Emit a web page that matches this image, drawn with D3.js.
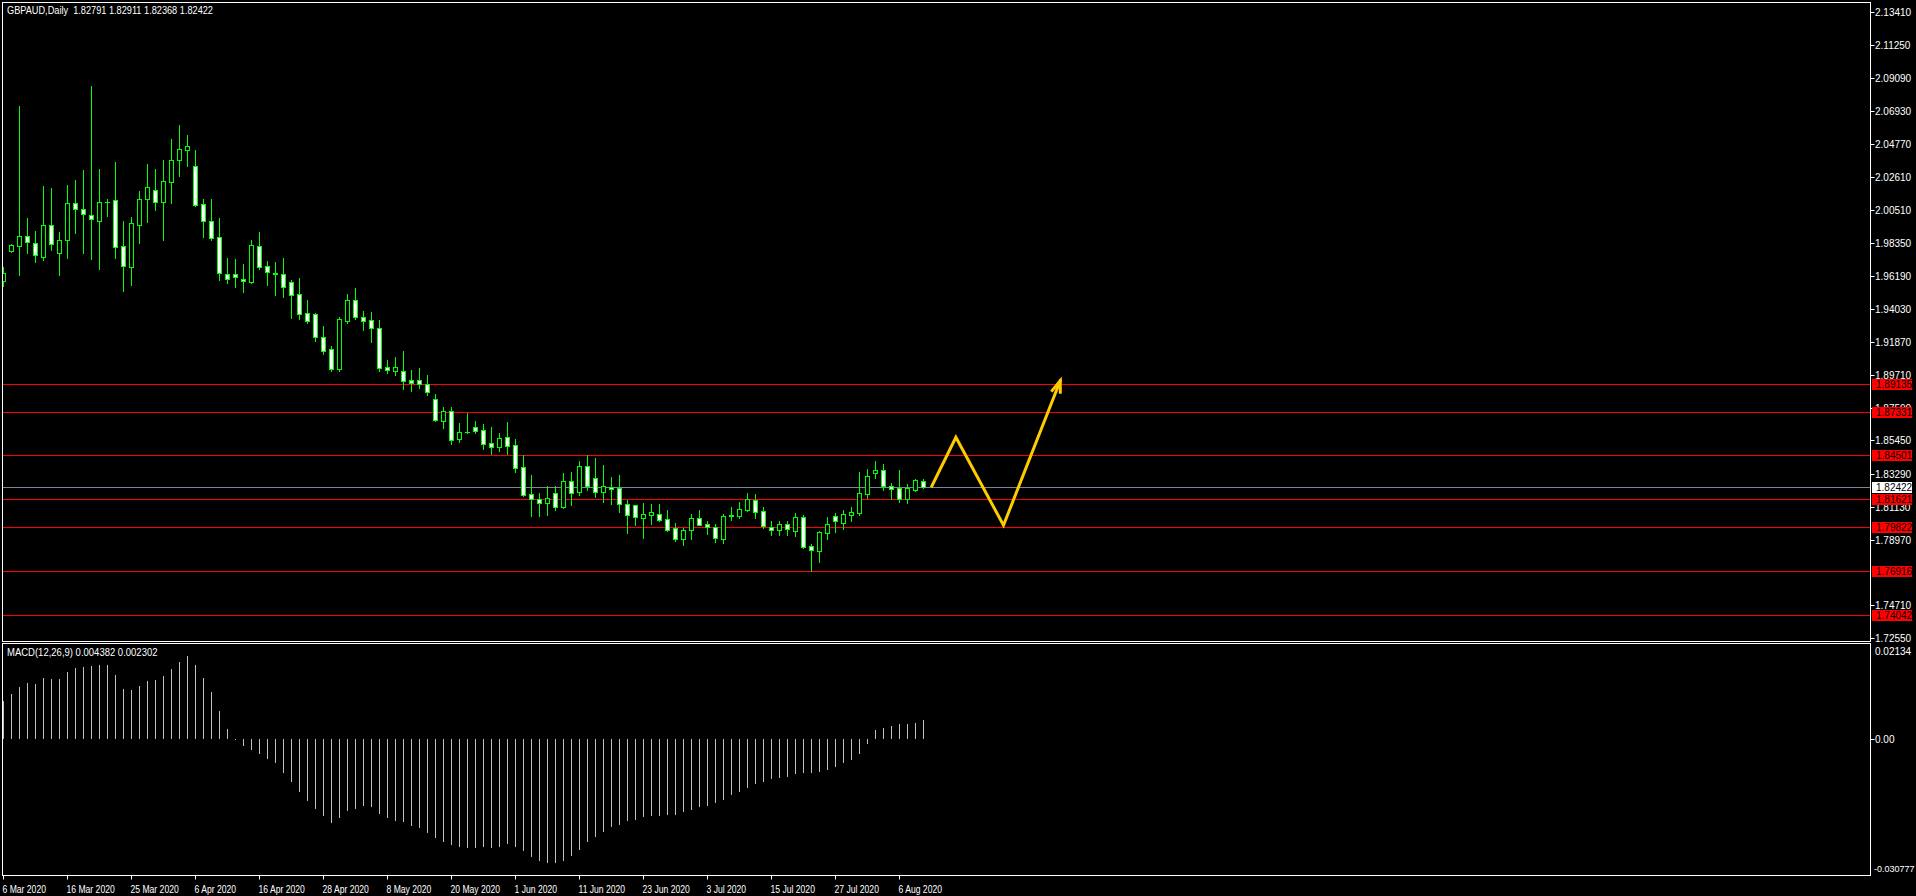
<!DOCTYPE html>
<html><head><meta charset="utf-8">
<script src="https://cdn.jsdelivr.net/npm/d3@7"></script>
<style>
html,body{margin:0;padding:0;background:#000;overflow:hidden}
svg{display:block}
text{font-family:"Liberation Sans",Arial,sans-serif;}
</style></head><body><svg id="c" width="1916" height="896"></svg>
<script>
// ---- data ----
const opens=[1.9585,1.9782,1.9815,1.9876,1.9831,1.9743,1.9948,1.9769,1.9850,2.0092,
2.0053,2.0015,1.9978,2.0100,2.0111,1.9811,1.9678,1.9952,2.0118,2.0176,
2.0102,2.0232,2.0376,2.0441,2.0333,2.0085,1.9974,1.9870,1.9629,1.9629,
1.9596,1.9580,1.9811,1.9681,1.9634,1.9629,1.9576,1.9500,1.9376,1.9368,
1.9218,1.9141,1.9011,1.9326,1.9459,1.9348,1.9331,1.9276,1.9022,1.8995,
1.9000,1.8939,1.8939,1.8913,1.8815,1.8674,1.8735,1.8553,1.8600,1.8631,
1.8611,1.8527,1.8504,1.8566,1.8514,1.8370,1.8194,1.8165,1.8139,1.8201,
1.8113,1.8279,1.8207,1.8377,1.8298,1.8211,1.8243,1.8235,1.8131,1.8122,
1.8041,1.8061,1.8063,1.8031,1.7975,1.7901,1.7959,1.8037,1.7998,1.7983,
1.7905,1.8054,1.8054,1.8094,1.8159,1.8083,1.7983,1.7959,1.7998,1.7957,
1.8044,1.7855,1.7826,1.7944,1.8050,1.8009,1.8057,1.8074,1.8198,1.8335,
1.8350,1.8246,1.8235,1.8161,1.8222,1.82791];
const highs=[1.9678,1.9826,2.0726,1.9996,1.9909,2.0204,2.0191,1.9904,2.0211,2.0244,
2.0309,2.0856,2.0315,2.0118,2.0361,1.9974,2.0000,2.0172,2.0348,2.0315,
2.0374,2.0511,2.0602,2.0537,2.0439,2.0118,2.0118,1.9996,1.9735,1.9728,
1.9696,1.9852,1.9904,1.9715,1.9709,1.9735,1.9591,1.9604,1.9461,1.9378,
1.9291,1.9161,1.9350,1.9500,1.9539,1.9389,1.9383,1.9331,1.9070,1.9090,
1.9129,1.9005,1.9018,1.8972,1.8848,1.8765,1.8765,1.8659,1.8721,1.8672,
1.8652,1.8633,1.8594,1.8665,1.8553,1.8450,1.8320,1.8202,1.8246,1.8248,
1.8332,1.8337,1.8411,1.8450,1.8430,1.8385,1.8306,1.8320,1.8157,1.8124,
1.8135,1.8131,1.8131,1.8092,1.8005,1.7972,1.8066,1.8092,1.8018,1.8002,
1.8068,1.8109,1.8144,1.8200,1.8196,1.8109,1.8020,1.8018,1.8018,1.8070,
1.8059,1.7870,1.7955,1.8046,1.8072,1.8092,1.8109,1.8339,1.8359,1.8411,
1.8392,1.8268,1.8352,1.8259,1.8292,1.82911];
const lows=[1.9550,1.9775,1.9624,1.9769,1.9711,1.9722,1.9787,1.9624,1.9735,1.9900,
1.9769,1.9728,1.9663,2.0009,1.9737,1.9520,1.9559,1.9835,1.9970,2.0048,
1.9852,2.0094,2.0272,2.0337,2.0074,1.9874,1.9852,1.9593,1.9574,1.9546,
1.9513,1.9575,1.9665,1.9559,1.9494,1.9482,1.9344,1.9337,1.9309,1.9196,
1.9111,1.9000,1.9000,1.9310,1.9339,1.9265,1.9187,1.9000,1.8985,1.8970,
1.8881,1.8868,1.8890,1.8843,1.8670,1.8628,1.8524,1.8535,1.8596,1.8594,
1.8489,1.8457,1.8476,1.8457,1.8341,1.8180,1.8054,1.8054,1.8059,1.8092,
1.8105,1.8124,1.8189,1.8222,1.8178,1.8146,1.8131,1.8079,1.7941,1.7992,
1.7907,1.8000,1.8022,1.7955,1.7890,1.7865,1.7905,1.7992,1.7937,1.7883,
1.7876,1.8026,1.8039,1.8087,1.8041,1.7972,1.7931,1.7931,1.7931,1.7924,
1.7844,1.7694,1.7754,1.7902,1.7948,1.7968,1.8020,1.8059,1.8170,1.8300,
1.8222,1.8161,1.8144,1.8137,1.8215,1.82368];
const closes=[1.9637,1.9818,1.9878,1.9837,1.9752,1.9948,1.9828,1.9850,2.0092,2.0053,
2.0020,1.9987,2.0098,2.0103,1.9809,1.9685,1.9961,2.0118,2.0196,2.0102,
2.0235,2.0372,2.0444,2.0463,2.0082,1.9978,1.9867,1.9635,1.9596,1.9609,
1.9583,1.9818,1.9678,1.9646,1.9630,1.9548,1.9496,1.9372,1.9326,1.9222,
1.9130,1.9011,1.9335,1.9461,1.9352,1.9326,1.9280,1.9020,1.9005,1.9025,
1.8935,1.8922,1.8911,1.8863,1.8680,1.8735,1.8550,1.8598,1.8601,1.8609,
1.8524,1.8504,1.8559,1.8511,1.8368,1.8191,1.8163,1.8139,1.8168,1.8113,
1.8279,1.8205,1.8377,1.8250,1.8211,1.8246,1.8230,1.8129,1.8061,1.8044,
1.8063,1.8076,1.8028,1.7963,1.7905,1.7961,1.8037,1.7996,1.7979,1.7907,
1.8050,1.8058,1.8096,1.8161,1.8081,1.7989,1.7959,1.7998,1.7968,1.8044,
1.7852,1.7829,1.7946,1.8002,1.8018,1.8063,1.8076,1.8200,1.8311,1.8350,
1.8248,1.8230,1.8161,1.8235,1.8285,1.82422];
const macdHist=[0.00872,0.01031,0.01190,0.01280,0.01258,0.01394,0.01371,0.01371,0.01530,0.01620,
0.01643,0.01665,0.01681,0.01688,0.01462,0.01144,0.01122,0.01212,0.01326,0.01348,
0.01439,0.01598,0.01756,0.01892,0.01672,0.01394,0.01076,0.00630,0.00238,-0.00020,
-0.00161,-0.00245,-0.00329,-0.00440,-0.00550,-0.00771,-0.00965,-0.01187,-0.01408,-0.01575,
-0.01740,-0.01906,-0.01795,-0.01629,-0.01575,-0.01518,-0.01546,-0.01686,-0.01795,-0.01851,
-0.01879,-0.01962,-0.02017,-0.02128,-0.02239,-0.02322,-0.02404,-0.02432,-0.02460,-0.02460,
-0.02432,-0.02460,-0.02432,-0.02377,-0.02432,-0.02543,-0.02680,-0.02770,-0.02800,-0.02810,
-0.02760,-0.02650,-0.02500,-0.02340,-0.02211,-0.02100,-0.01990,-0.01935,-0.01851,-0.01824,
-0.01768,-0.01740,-0.01740,-0.01713,-0.01713,-0.01657,-0.01602,-0.01546,-0.01518,-0.01437,
-0.01380,-0.01269,-0.01187,-0.01104,-0.01020,-0.00965,-0.00909,-0.00881,-0.00854,-0.00798,
-0.00771,-0.00771,-0.00743,-0.00689,-0.00632,-0.00550,-0.00467,-0.00329,-0.00120,0.00197,
0.00254,0.00308,0.00338,0.00338,0.00365,0.004382];
const priceTicks=[2.13410,2.11250,2.09090,2.06930,2.04770,2.02610,2.00510,1.98350,1.96190,1.94030,
1.91870,1.89710,1.87590,1.85450,1.83290,1.81130,1.78970,1.74710,1.72550];
const levels=[1.89135,1.87331,1.84501,1.81621,1.79822,1.76916,1.74042];
const bidPrice=1.82422;
const macdTicks=[0.02134,0.00,-0.030777];
const macdTickLabels=["0.02134","0.00","-0.030777"];
const dateLabels=["6 Mar 2020","16 Mar 2020","25 Mar 2020","6 Apr 2020","16 Apr 2020","28 Apr 2020",
"8 May 2020","20 May 2020","1 Jun 2020","11 Jun 2020","23 Jun 2020","3 Jul 2020","15 Jul 2020","27 Jul 2020","6 Aug 2020"];
const labelEvery=8;
const arrowBars=[116.05,119.05,125.0,132.1];
const arrowPrices=[1.8248,1.8566,1.7992,1.8935];
const titleText="GBPAUD,Daily  1.82791 1.82911 1.82368 1.82422";
const macdTitle="MACD(12,26,9) 0.004382 0.002302";

// ---- layout ----
const L=2.5,R=1870.5,mainT=2.5,mainB=641.5,macdT=643.5,macdB=875.5;
const svg=d3.select("#c");
svg.append("rect").attr("width",1916).attr("height",896).attr("fill","#000");
const x=d3.scaleLinear().domain([0,1]).range([3.5,11.5]);
const y=d3.scaleLinear().domain([1.72550,2.13410]).range([638.3,11.7]);
const yM=d3.scaleLinear().domain([-0.030777,0.02134]).range([875,645]);
const px=v=>Math.round(v)+0.5;

const defs=svg.append("defs");
defs.append("clipPath").attr("id","cm").append("rect").attr("x",3).attr("y",3).attr("width",R-3.5).attr("height",mainB-3.5);
defs.append("clipPath").attr("id","cmacd").append("rect").attr("x",3).attr("y",macdT+0.5).attr("width",R-3.5).attr("height",macdB-macdT-1);

const gMain=svg.append("g").attr("clip-path","url(#cm)");
gMain.selectAll("line.lv").data(levels).join("line").attr("class","lv")
 .attr("x1",3).attr("x2",R).attr("y1",d=>px(y(d))).attr("y2",d=>px(y(d)))
 .attr("stroke","#ff0000").attr("stroke-width",1);
gMain.append("line").attr("x1",3).attr("x2",R).attr("y1",px(y(bidPrice))).attr("y2",px(y(bidPrice)))
 .attr("stroke","#778899").attr("stroke-width",1);

// candles
const bars=d3.range(opens.length).map(i=>({i,o:opens[i],h:highs[i],l:lows[i],c:closes[i]}));
const gc=gMain.append("g");
gc.selectAll("line.wk").data(bars).join("line").attr("class","wk")
 .attr("x1",d=>x(d.i)).attr("x2",d=>x(d.i))
 .attr("y1",d=>Math.round(y(d.h))).attr("y2",d=>Math.round(y(d.l))+1)
 .attr("stroke","#00ff00").attr("stroke-width",1);
bars.forEach(d=>{
  const t=Math.round(y(Math.max(d.o,d.c))), b=Math.round(y(Math.min(d.o,d.c)));
  const cx=x(d.i);
  if(b-t<1){
    gc.append("line").attr("x1",cx-2.5).attr("x2",cx+2.5).attr("y1",t+0.5).attr("y2",t+0.5)
      .attr("stroke","#00ff00").attr("stroke-width",1);
  } else {
    gc.append("rect").attr("x",cx-2).attr("y",t+0.5).attr("width",4).attr("height",b-t)
      .attr("fill",d.c>=d.o?"#000":"#ffffff").attr("stroke","#00ff00").attr("stroke-width",1);
  }
});

// yellow zigzag arrow
const pts=arrowBars.map((b,i)=>[x(b),y(arrowPrices[i])]);
gMain.append("path").attr("d",d3.line()(pts)).attr("fill","none")
 .attr("stroke","#ffcc00").attr("stroke-width",3).attr("stroke-linejoin","miter").attr("stroke-linecap","square");
const tip=pts[pts.length-1];
gMain.append("path").attr("d",`M${tip[0]-9},${tip[1]+11}L${tip[0]},${tip[1]}L${tip[0]},${tip[1]+13}`)
 .attr("fill","none").attr("stroke","#ffcc00").attr("stroke-width",3);

// MACD
const gM=svg.append("g").attr("clip-path","url(#cmacd)");
gM.selectAll("line.h").data(macdHist).join("line").attr("class","h")
 .attr("x1",(d,i)=>x(i)).attr("x2",(d,i)=>x(i))
 .attr("y1",Math.round(yM(0))).attr("y2",d=>Math.round(yM(d)))
 .attr("stroke","#c0c0c0").attr("stroke-width",1);

// frames
const fr=svg.append("g").attr("fill","none").attr("stroke","#fff").attr("stroke-width",1);
fr.append("rect").attr("x",L).attr("y",mainT).attr("width",R-L).attr("height",mainB-mainT);
fr.append("rect").attr("x",L).attr("y",macdT).attr("width",R-L).attr("height",macdB-macdT);

// price axis
const ax=svg.append("g").attr("font-size","10px");
priceTicks.forEach(p=>{
  const yy=px(y(p));
  ax.append("line").attr("x1",R).attr("x2",R+4).attr("y1",yy).attr("y2",yy).attr("stroke","#fff");
  ax.append("text").attr("x",1875).attr("y",yy).attr("dy","0.35em").attr("fill","#fff").text(p.toFixed(5));
});
levels.forEach(p=>{
  const yy=Math.round(y(p));
  ax.append("rect").attr("x",1872).attr("y",yy-5).attr("width",40).attr("height",11).attr("fill","#ff0000");
  ax.append("text").attr("x",1876).attr("y",yy+0.5).attr("dy","0.36em").attr("fill","#000").text(p.toFixed(5));
});
{
  const yy=Math.round(y(bidPrice));
  ax.append("rect").attr("x",1872).attr("y",yy-5).attr("width",40).attr("height",11).attr("fill","#ffffff");
  ax.append("text").attr("x",1876).attr("y",yy+0.5).attr("dy","0.36em").attr("fill","#000").text(bidPrice.toFixed(5));
}
// macd axis
macdTicks.forEach((v,i)=>{
  let yy=yM(v);
  const last=i===macdTicks.length-1;
  if(i===0) yy+=6; else if(last) yy-=6;
  else ax.append("line").attr("x1",R).attr("x2",R+4).attr("y1",px(yy)).attr("y2",px(yy)).attr("stroke","#fff");
  ax.append("text").attr("x",last?1874:1875).attr("y",yy).attr("dy","0.35em").attr("fill","#fff")
   .attr("font-size",last?"9px":"10px").text(macdTickLabels[i]);
});
// date axis
dateLabels.forEach((t,k)=>{
  const xx=x(k*labelEvery);
  ax.append("line").attr("x1",xx).attr("x2",xx).attr("y1",macdB).attr("y2",macdB+4).attr("stroke","#fff");
  ax.append("text").attr("transform",`translate(${xx-1},889) scale(0.86,1)`).attr("dy","0.35em").attr("fill","#fff").text(t);
});
// titles
svg.append("text").attr("transform","translate(7,14) scale(0.92,1)").attr("font-size","10px").attr("fill","#fff").style("white-space","pre").text(titleText);
svg.append("text").attr("transform","translate(7,656) scale(0.95,1)").attr("font-size","10px").attr("fill","#fff").text(macdTitle);
</script></body></html>
